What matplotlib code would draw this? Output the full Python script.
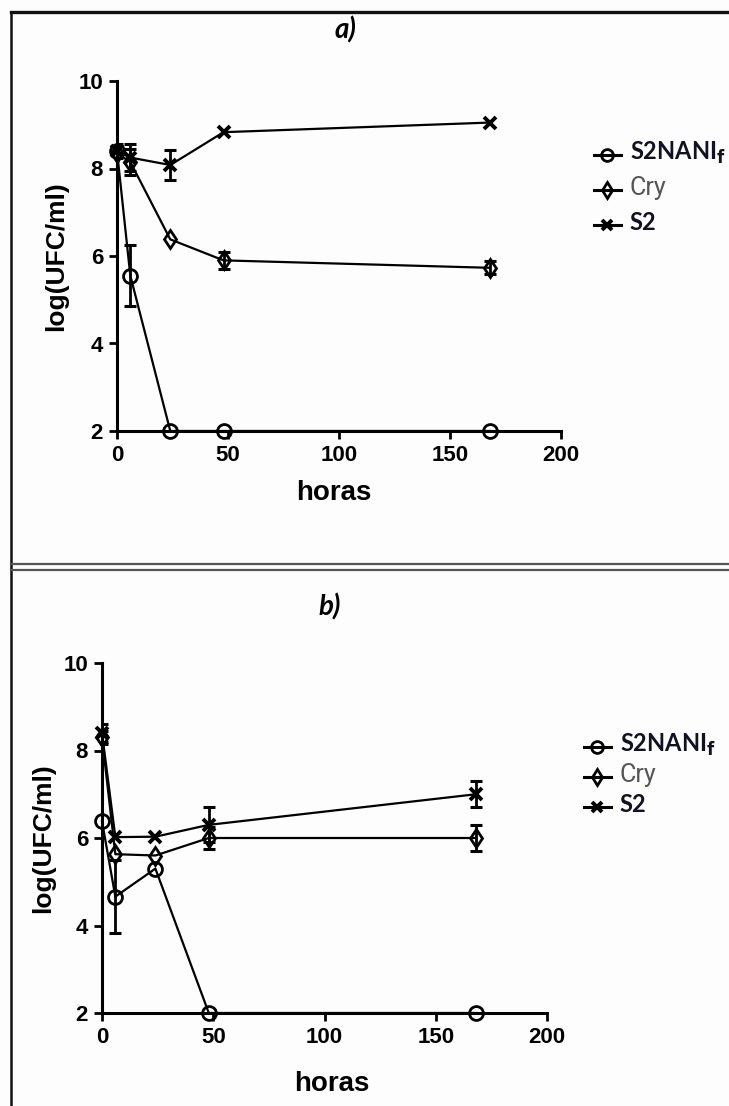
import numpy as np
import matplotlib.pyplot as plt
from matplotlib.lines import Line2D

# ---------------------------------------------------------------------------
# Data (hours vs log(UFC/ml)).
# ---------------------------------------------------------------------------
HOURS = np.array([0, 6, 24, 48, 168])

# panel a)
A_NANI = np.array([8.4, 5.55, 2.0, 2.0, 2.0])
A_NANI_ERR = np.array([0.0, 0.7, 0.0, 0.0, 0.0])
A_CRY = np.array([8.35, 8.15, 6.38, 5.9, 5.73])
A_CRY_ERR = np.array([0.0, 0.3, 0.0, 0.2, 0.15])
A_S2 = np.array([8.4, 8.25, 8.08, 8.83, 9.05])
A_S2_ERR = np.array([0.15, 0.3, 0.34, 0.0, 0.0])

# panel b)
B_NANI = np.array([6.38, 4.66, 5.3, 2.0, 2.0])
B_NANI_ERR = np.array([0.0, 0.83, 0.0, 0.0, 0.0])
B_CRY = np.array([8.3, 5.63, 5.6, 6.0, 6.0])
B_CRY_ERR = np.array([0.15, 0.0, 0.0, 0.25, 0.3])
B_S2 = np.array([8.4, 6.02, 6.03, 6.3, 7.0])
B_S2_ERR = np.array([0.2, 0.0, 0.0, 0.4, 0.3])

LABELS = [r"S2NANI$_{\mathbf{f}}$", "Cry", "S2"]
LABEL_COLORS = ["#111122", "#555555", "#111122"]
X_TICKS = [0, 50, 100, 150, 200]
Y_TICKS = [2, 4, 6, 8, 10]

W, H = 729, 1106
fig = plt.figure(figsize=(W / 100, H / 100), dpi=100)
fig.patch.set_facecolor("#fdfdfd")

STYLE = [
    dict(marker="o", ms=10, mew=2.0),
    dict(marker="d", ms=9.5, mew=2.0),
    dict(marker="x", ms=9, mew=2.8),
]

TICK_FONT = dict(family="Liberation Sans", weight="bold", size=16)


def panel(rect, series, title_xy, title, ylab_x, xlab_xy, leg_anchor, leg_space):
    ax = fig.add_axes(rect)
    ax.set_facecolor("none")
    for (y, e), st, lab in zip(series, STYLE, LABELS):
        ax.plot(HOURS, y, color="black", lw=1.6, mfc="none", mec="black",
                label=lab, zorder=3, clip_on=False, **st)
        m = e > 0
        ax.errorbar(HOURS[m], y[m], yerr=e[m], fmt="none", ecolor="black",
                    elinewidth=2.0, capsize=4.5, capthick=2.2, zorder=2)
    ax.set_xlim(0, 200)
    ax.set_ylim(2, 10)
    ax.set_xticks(X_TICKS)
    ax.set_yticks(Y_TICKS)
    for s in ["top", "right"]:
        ax.spines[s].set_visible(False)
    for s in ["left", "bottom"]:
        ax.spines[s].set_linewidth(2.2)
    ax.tick_params(width=2.0, length=6, pad=4)
    for t in ax.get_xticklabels() + ax.get_yticklabels():
        t.set(**TICK_FONT)

    ax.set_ylabel("log(UFC/ml)", family="Liberation Sans", weight="bold", size=19)
    ax.yaxis.set_label_coords(ylab_x, 0.5)
    ax.set_xlabel("horas", family="Liberation Sans", weight="bold", size=20)
    ax.xaxis.set_label_coords(*xlab_xy)

    fig.text(title_xy[0] / W, 1 - title_xy[1] / H, title, family="Lato",
             weight="bold", style="italic", size=20, ha="center", va="center")

    handles, labels = ax.get_legend_handles_labels()
    leg = fig.legend(handles, labels, loc="upper left",
                     bbox_to_anchor=(leg_anchor[0] / W, 1 - leg_anchor[1] / H),
                     frameon=False, handlelength=2.0, handletextpad=0.6,
                     markerscale=0.85, labelspacing=leg_space, borderaxespad=0)
    for ln in leg.get_lines():
        ln.set_linewidth(2.2)
    for txt, col, lab in zip(leg.get_texts(), LABEL_COLORS, LABELS):
        txt.set_color(col)
        if lab == "Cry":
            txt.set(family="Roboto", size=18)
        else:
            txt.set(family="Lato", weight="bold", size=17)
    return ax


panel([117 / W, 1 - 431 / H, 444 / W, 350 / H],
      [(A_NANI, A_NANI_ERR), (A_CRY, A_CRY_ERR), (A_S2, A_S2_ERR)],
      (345, 30), "a)", -0.11, (0.489, -0.14), (588, 134), 0.75)

panel([102 / W, 1 - 1013 / H, 445 / W, 350 / H],
      [(B_NANI, B_NANI_ERR), (B_CRY, B_CRY_ERR), (B_S2, B_S2_ERR)],
      (330, 607), "b)", -0.106, (0.517, -0.165), (578, 726), 0.4)

# page frame around the panels
def px_line(x0, y0, x1, y1, lw, color):
    fig.add_artist(Line2D([x0 / W, x1 / W], [1 - y0 / H, 1 - y1 / H],
                          lw=lw, color=color, transform=fig.transFigure))


px_line(11, 12, W, 12, 2.4, "#111111")
px_line(11, 12, 11, H, 1.8, "#111111")
px_line(11, 563.5, W, 563.5, 1.6, "#555555")
px_line(11, 569.5, W, 569.5, 1.6, "#555555")

fig.savefig("out.png", dpi=100, facecolor=fig.get_facecolor())
